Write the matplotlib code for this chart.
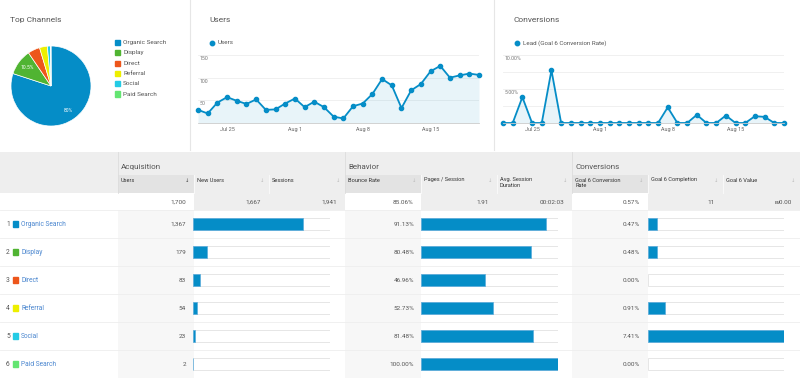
#!/usr/bin/env python3
"""
Analytics dashboard - top channels, users, conversions and channel table
"""

import matplotlib.pyplot as plt
from matplotlib.patches import Rectangle
from matplotlib.transforms import blended_transform_factory

plt.rcParams['font.family'] = ['Roboto', 'DejaVu Sans']

W, H = 800, 378

# channel table data
channels = ['Organic Search', 'Display', 'Direct', 'Referral', 'Social', 'Paid Search']
channel_colors = ['#058dc7', '#50b432', '#ed561b', '#edef00', '#24cbe5', '#64e572']
users = [1367, 179, 83, 54, 23, 2]
users_txt = ['1,367', '179', '83', '54', '23', '2']
bounce_rate = [91.13, 80.48, 46.96, 52.73, 81.48, 100.00]
conv_rate = [0.47, 0.48, 0.00, 0.91, 7.41, 0.00]
total_users = 1700

headers = ['Users', 'New Users', 'Sessions', 'Bounce Rate', 'Pages / Session',
           'Avg. Session\nDuration', 'Goal 6 Conversion\nRate', 'Goal 6 Completion', 'Goal 6 Value']
totals = ['1,700', '1,667', '1,941', '85.06%', '1.91', '00:02:03', '0.57%', '11', '\u20aa0.00']
groups = ['Acquisition', 'Behavior', 'Conversions']

# daily series, Jul 22 .. Aug 20
days = list(range(30))
date_ticks = [3, 10, 17, 24]
date_labels = ['Jul 25', 'Aug 1', 'Aug 8', 'Aug 15']
daily_users = [29, 21, 45, 57, 49, 42, 52, 29, 30, 43, 54, 35, 47, 35, 14,
               10, 37, 43, 64, 97, 83, 33, 72, 86, 114, 126, 100, 105, 109, 106]
daily_conv = [0, 0, 3.8, 0, 0, 7.75, 0, 0, 0, 0, 0, 0, 0, 0, 0,
              0, 0, 2.3, 0, 0, 1.2, 0, 0, 1.1, 0, 0, 1.0, 0.9, 0, 0]

BLUE = '#058dc7'
TXT = '#555555'
LINK = '#4a86cf'

fig = plt.figure(figsize=(W / 100, H / 100), dpi=100)
fig.patch.set_facecolor('white')


def px_axes(x0, y0, x1, y1, z=1):
    return fig.add_axes([x0 / W, 1 - y1 / H, (x1 - x0) / W, (y1 - y0) / H], zorder=z)


bg = px_axes(0, 0, W, H, z=0)
bg.set_xlim(0, W)
bg.set_ylim(H, 0)
bg.axis('off')

# top panel separators
for x in [190, 494]:
    bg.plot([x, x], [0, 150], color='#e6e6e6', lw=0.8)

# ---------- Top Channels pie ----------
bg.text(10, 20, 'Top Channels', fontsize=6, color=TXT, va='center')


def pct_fmt(p):
    if p < 10:
        return ''
    return f"{p:.1f}".rstrip('0').rstrip('.') + '%'


pie_ax = px_axes(11, 46, 91, 126)
pie_ax.pie(users, colors=channel_colors, startangle=90, counterclock=False,
           wedgeprops=dict(edgecolor='white', linewidth=0.5),
           autopct=pct_fmt, pctdistance=0.75,
           textprops=dict(color='white', fontsize=3.6))
pie_ax.set_xlim(-1, 1)
pie_ax.set_ylim(-1, 1)

for i, (name, c) in enumerate(zip(channels, channel_colors)):
    y = 42.5 + i * 10.3
    bg.add_patch(Rectangle((115, y - 2.6), 5.2, 5.2, color=c))
    bg.text(123, y, name, fontsize=4.6, color=TXT, va='center')


# ---------- line charts ----------
def line_panel(x0, title, legend, series, ymax, grid, ylabels):
    bg.text(x0 + 19, 20, title, fontsize=6, color=TXT, va='center')
    bg.plot([x0 + 22], [43], 'o', color=BLUE, ms=3.2)
    bg.text(x0 + 28, 43, legend, fontsize=4.5, color=TXT, va='center')
    ax = px_axes(x0 + 8, 55, x0 + 289, 123)
    ax.set_xlim(0, 29)
    ax.set_ylim(0, ymax)
    for g in grid:
        ax.axhline(g, color='#eeeeee', lw=0.6, zorder=0)
    ax.fill_between(days, series, color=BLUE, alpha=0.09, lw=0)
    ax.plot(days, series, color=BLUE, lw=1.3, marker='o', ms=3.0, clip_on=False)
    for s in ['top', 'right', 'left']:
        ax.spines[s].set_visible(False)
    ax.spines['bottom'].set_color('#cccccc')
    ax.spines['bottom'].set_linewidth(0.6)
    ax.set_yticks([])
    ax.set_xticks(date_ticks, date_labels)
    ax.tick_params(axis='x', length=0, labelsize=4.0, labelcolor='#666666', pad=3)
    tr = blended_transform_factory(ax.transAxes, ax.transData)
    for v, lab in ylabels:
        ax.text(0.004, v - ymax * 0.015, lab, transform=tr, fontsize=3.8,
                color='#777777', va='top', ha='left')
    ax.patch.set_alpha(0)
    return ax


line_panel(190, 'Users', 'Users', daily_users, 150, [50, 100, 150],
           [(50, '50'), (100, '100'), (150, '150')])
line_panel(495, 'Conversions', 'Lead (Goal 6 Conversion Rate)', daily_conv, 10,
           [2.5, 5, 7.5, 10], [(5, '5.00%'), (10, '10.00%')])

# ---------- table ----------
edges = [0, 118, 194, 269, 345, 421, 497, 572, 648, 723, 800]
main_cols = [0, 3, 6]   # Users, Bounce Rate, Goal 6 Conversion Rate
TOP, GROUP_B, HEAD_B, TOT_B = 152, 175, 193, 210
ROW_H = 28
n = len(channels)
BOT = TOT_B + ROW_H * n

bg.add_patch(Rectangle((0, TOP), W, HEAD_B - TOP, color='#eeeeee', lw=0))
for gi, name in enumerate(groups):
    x = edges[1 + main_cols[gi]]
    bg.plot([x, x], [TOP, HEAD_B], color='#dddddd', lw=0.6)
    bg.text(x + 3, 167, name, fontsize=5.8, color=TXT, va='center')

for ci, head in enumerate(headers):
    x0, x1 = edges[ci + 1], edges[ci + 2]
    if ci in main_cols:
        bg.add_patch(Rectangle((x0, GROUP_B), x1 - x0, HEAD_B - GROUP_B, color='#e3e3e3', lw=0))
    if ci not in main_cols and ci > 0:
        bg.plot([x0, x0], [GROUP_B, HEAD_B], color='#f8f8f8', lw=0.8)
    bg.text(x0 + 3, 177.5, head, fontsize=4.1, color='#333333', va='top',
            linespacing=1.2)
    bg.text(x1 - 5, 181, '\u2193', fontsize=3.8, va='center', ha='right',
            color='#444444' if ci == 0 else '#bbbbbb')

    # totals row
    fill = 'white' if ci in main_cols else '#eeeeee'
    bg.add_patch(Rectangle((x0, HEAD_B), x1 - x0, TOT_B - HEAD_B, color=fill, lw=0))
    bg.text(x1 - 8, 202, totals[ci], fontsize=4.6, color=TXT, va='center', ha='right')

# data area backgrounds
for ci in main_cols:
    x0, x1 = edges[ci + 1], edges[ci + 2]
    bg.add_patch(Rectangle((x0, TOT_B), x1 - x0, BOT - TOT_B, color='#f7f7f7', lw=0))
for k in range(n + 1):
    y = TOT_B + k * ROW_H
    bg.plot([0, W], [y, y], color='#eeeeee', lw=0.6)

value_cols = [
    (users_txt, 186),
    ([f"{v:.2f}%" for v in bounce_rate], 414),
    ([f"{v:.2f}%" for v in conv_rate], 640),
]
for i, name in enumerate(channels):
    yc = TOT_B + ROW_H * (i + 0.5)
    bg.text(6, yc, str(i + 1), fontsize=4.8, color=TXT, va='center', ha='left')
    bg.add_patch(Rectangle((13, yc - 2.6), 5.2, 5.2, color=channel_colors[i]))
    bg.text(21, yc, name, fontsize=4.8, color=LINK, va='center')
    for texts, xr in value_cols:
        bg.text(xr, yc, texts[i], fontsize=4.6, color=TXT, va='center', ha='right')

# bar cells
bar_cols = [
    (users, total_users, 193, 330),
    (bounce_rate, 100, 421, 558),
    (conv_rate, max(conv_rate), 648, 784),
]
for vals, scale, x0, x1 in bar_cols:
    ax = px_axes(x0, TOT_B, x1, BOT, z=2)
    ax.set_xlim(0, scale)
    ax.set_ylim(n - 0.5, -0.5)
    ax.axis('off')
    rows = list(range(n))
    ax.barh(rows, [scale] * n, height=0.42, color='white', edgecolor='#e2e2e2', lw=0.6)
    edge_w = [0.5 if v > 0 else 0 for v in vals]
    ax.barh(rows, vals, height=0.42, color=BLUE, edgecolor='#5aacdc', lw=edge_w)

fig.savefig('out.png', dpi=100, facecolor='white')
